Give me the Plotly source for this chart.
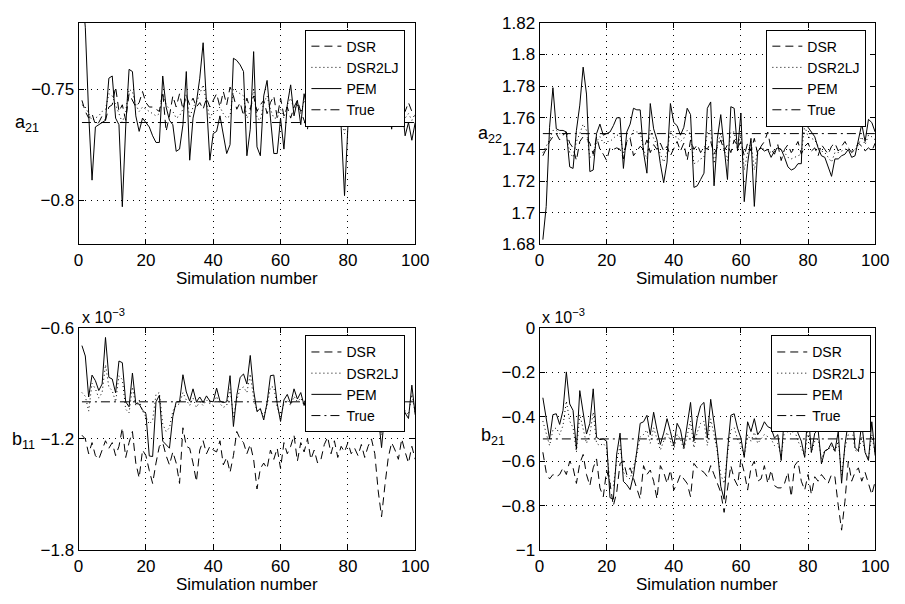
import plotly.graph_objects as go

# page is 905x604; the html body adds an 8px margin all round,
# so the figure itself is 889x588 and sits 8px in from the page corner
PAGE_W, PAGE_H = 905, 604
OFF = 8
W, H = PAGE_W - 2 * OFF, PAGE_H - 2 * OFF

sim = list(range(1, 101))
series_names = ["DSR", "DSR2LJ", "PEM", "True"]
x_ticks = [0, 20, 40, 60, 80, 100]
x_ticktext = ["0", "20", "40", "60", "80", "100"]

# ---------- a21 ----------
a21_dsr = [-0.755,-0.760,-0.763,-0.761,-0.766,-0.765,-0.762,-0.764,-0.758,-0.757,
-0.749,-0.760,-0.757,-0.764,-0.752,-0.755,-0.758,-0.756,-0.751,-0.756,
-0.758,-0.758,-0.759,-0.760,-0.751,-0.769,-0.762,-0.753,-0.758,-0.752,
-0.759,-0.753,-0.757,-0.754,-0.758,-0.756,-0.759,-0.754,-0.758,-0.755,
-0.752,-0.758,-0.751,-0.757,-0.749,-0.753,-0.759,-0.756,-0.762,-0.754,
-0.759,-0.753,-0.760,-0.757,-0.755,-0.761,-0.756,-0.753,-0.763,-0.754,
-0.762,-0.758,-0.763,-0.758,-0.755,-0.760,-0.764,-0.768,-0.756,-0.758,
-0.753,-0.761,-0.758,-0.760,-0.763,-0.756,-0.752,-0.762,-0.758,-0.757,
-0.756,-0.762,-0.759,-0.753,-0.762,-0.757,-0.760,-0.753,-0.760,-0.759,
-0.752,-0.760,-0.757,-0.756,-0.753,-0.758,-0.760,-0.756,-0.760,-0.762]
a21_dsr2lj = [-0.757,-0.758,-0.761,-0.764,-0.763,-0.762,-0.760,-0.759,-0.752,-0.753,
-0.757,-0.761,-0.765,-0.760,-0.750,-0.751,-0.757,-0.760,-0.758,-0.759,
-0.760,-0.761,-0.762,-0.761,-0.752,-0.757,-0.759,-0.760,-0.763,-0.762,
-0.759,-0.752,-0.763,-0.758,-0.756,-0.752,-0.748,-0.756,-0.763,-0.760,
-0.760,-0.758,-0.761,-0.763,-0.762,-0.750,-0.751,-0.752,-0.753,-0.763,
-0.760,-0.750,-0.763,-0.764,-0.756,-0.753,-0.759,-0.763,-0.763,-0.759,
-0.763,-0.757,-0.754,-0.759,-0.757,-0.761,-0.755,-0.758,-0.753,-0.760,
-0.758,-0.761,-0.755,-0.759,-0.757,-0.760,-0.755,-0.762,-0.770,-0.761,
-0.757,-0.755,-0.758,-0.756,-0.760,-0.754,-0.759,-0.757,-0.760,-0.755,
-0.759,-0.757,-0.762,-0.756,-0.759,-0.757,-0.763,-0.761,-0.764,-0.761]
a21_pem = [-0.705,-0.722,-0.761,-0.791,-0.767,-0.766,-0.765,-0.764,-0.745,-0.744,
-0.763,-0.766,-0.803,-0.767,-0.741,-0.742,-0.762,-0.769,-0.763,-0.765,
-0.767,-0.771,-0.774,-0.774,-0.744,-0.758,-0.764,-0.766,-0.778,-0.777,
-0.766,-0.742,-0.782,-0.763,-0.756,-0.745,-0.729,-0.756,-0.782,-0.770,
-0.769,-0.762,-0.771,-0.779,-0.775,-0.736,-0.737,-0.739,-0.742,-0.780,
-0.768,-0.733,-0.776,-0.780,-0.753,-0.746,-0.763,-0.779,-0.779,-0.763,
-0.777,-0.757,-0.748,-0.762,-0.755,-0.766,-0.752,-0.760,-0.745,-0.763,
-0.758,-0.766,-0.750,-0.761,-0.756,-0.764,-0.752,-0.767,-0.798,-0.767,
-0.757,-0.752,-0.760,-0.755,-0.763,-0.750,-0.761,-0.757,-0.764,-0.752,
-0.762,-0.755,-0.768,-0.754,-0.760,-0.756,-0.771,-0.765,-0.773,-0.765]
a21_true = -0.765
a21_ticks = [-0.8, -0.75]
a21_ticktext = ["\u22120.8", "\u22120.75"]
a21_range = [-0.82, -0.72]

# ---------- a22 ----------
a22_dsr = [1.736,1.740,1.745,1.748,1.750,1.746,1.749,1.751,1.744,1.741,
1.733,1.745,1.748,1.747,1.744,1.737,1.748,1.740,1.737,1.733,
1.741,1.740,1.741,1.740,1.734,1.745,1.747,1.736,1.739,1.742,
1.740,1.746,1.738,1.743,1.740,1.744,1.739,1.742,1.736,1.741,
1.745,1.739,1.744,1.733,1.746,1.740,1.743,1.738,1.742,1.740,
1.745,1.737,1.741,1.746,1.739,1.743,1.738,1.746,1.741,1.745,
1.736,1.744,1.739,1.747,1.737,1.742,1.745,1.751,1.740,1.737,
1.743,1.733,1.740,1.743,1.738,1.741,1.745,1.737,1.742,1.744,
1.739,1.741,1.736,1.743,1.740,1.737,1.742,1.744,1.739,1.742,
1.745,1.741,1.738,1.740,1.744,1.742,1.739,1.741,1.739,1.744]
a22_dsr2lj = [1.738,1.742,1.746,1.752,1.752,1.750,1.750,1.749,1.738,1.735,
1.745,1.750,1.756,1.752,1.735,1.736,1.745,1.748,1.744,1.745,
1.745,1.747,1.749,1.749,1.737,1.745,1.747,1.752,1.751,1.751,
1.740,1.734,1.752,1.747,1.743,1.737,1.732,1.738,1.752,1.748,
1.748,1.745,1.747,1.752,1.750,1.731,1.732,1.734,1.735,1.751,
1.752,1.731,1.743,1.750,1.740,1.733,1.751,1.751,1.740,1.750,
1.727,1.738,1.745,1.727,1.740,1.741,1.740,1.740,1.738,1.740,
1.741,1.740,1.738,1.735,1.734,1.735,1.736,1.737,1.755,1.748,
1.747,1.746,1.742,1.739,1.738,1.735,1.732,1.738,1.738,1.739,
1.740,1.741,1.739,1.740,1.743,1.748,1.743,1.749,1.748,1.746]
a22_pem = [1.683,1.704,1.754,1.779,1.753,1.752,1.752,1.751,1.729,1.728,
1.752,1.768,1.792,1.775,1.726,1.727,1.750,1.756,1.749,1.750,
1.751,1.755,1.760,1.760,1.728,1.751,1.756,1.766,1.765,1.765,
1.738,1.725,1.769,1.753,1.746,1.731,1.719,1.732,1.769,1.757,
1.755,1.749,1.754,1.766,1.762,1.716,1.717,1.721,1.725,1.766,
1.770,1.717,1.747,1.762,1.739,1.721,1.767,1.766,1.739,1.763,
1.707,1.731,1.747,1.704,1.739,1.741,1.739,1.740,1.735,1.739,
1.741,1.740,1.735,1.729,1.727,1.728,1.731,1.731,1.790,1.754,
1.751,1.748,1.741,1.736,1.735,1.729,1.723,1.734,1.734,1.736,
1.737,1.740,1.735,1.736,1.745,1.756,1.745,1.759,1.757,1.751]
a22_true = 1.75
a22_ticks = [1.68, 1.70, 1.72, 1.74, 1.76, 1.78, 1.80, 1.82]
a22_ticktext = ["1.68", "1.7", "1.72", "1.74", "1.76", "1.78", "1.8", "1.82"]
a22_range = [1.68, 1.82]

# ---------- b11 (x 10^-3) ----------
b11_dsr = [-1.18,-1.20,-1.28,-1.22,-1.29,-1.31,-1.26,-1.21,-1.25,-1.22,
-1.29,-1.24,-1.14,-1.30,-1.22,-1.16,-1.33,-1.41,-1.26,-1.29,
-1.37,-1.44,-1.33,-1.24,-1.22,-1.29,-1.34,-1.27,-1.33,-1.44,
-1.14,-1.24,-1.25,-1.33,-1.43,-1.26,-1.21,-1.28,-1.24,-1.26,
-1.27,-1.21,-1.34,-1.30,-1.38,-1.29,-1.16,-1.20,-1.22,-1.28,
-1.23,-1.31,-1.47,-1.36,-1.33,-1.36,-1.26,-1.31,-1.25,-1.36,
-1.22,-1.28,-1.24,-1.18,-1.32,-1.22,-1.27,-1.20,-1.31,-1.26,
-1.33,-1.31,-1.23,-1.19,-1.28,-1.21,-1.30,-1.24,-1.27,-1.22,
-1.28,-1.25,-1.29,-1.23,-1.30,-1.24,-1.20,-1.28,-1.48,-1.62,
-1.45,-1.30,-1.22,-1.26,-1.31,-1.20,-1.27,-1.33,-1.24,-1.31]
b11_dsr2lj = [-0.95,-0.97,-1.05,-0.90,-0.93,-0.98,-0.95,-0.80,-0.92,-0.94,
-1.00,-0.86,-0.88,-1.04,-1.06,-0.92,-1.02,-0.99,-1.05,-1.08,
-1.12,-1.10,-0.96,-0.95,-1.12,-1.16,-1.14,-1.05,-1.02,-1.01,
-0.95,-0.99,-1.02,-0.98,-1.03,-1.00,-1.02,-0.99,-1.01,-1.02,
-0.97,-1.01,-1.03,-1.02,-0.93,-1.08,-0.99,-0.93,-0.92,-0.95,
-0.85,-0.98,-1.05,-1.04,-1.08,-1.02,-0.92,-0.92,-1.03,-1.08,
-1.01,-0.99,-1.02,-0.97,-1.00,-0.98,-1.02,-0.98,-1.01,-1.04,
-1.04,-1.10,-1.03,-0.99,-1.01,-0.98,-1.03,-0.99,-1.02,-1.05,
-1.04,-1.06,-1.05,-1.07,-1.06,-1.06,-1.05,-1.07,-1.06,-1.18,
-1.04,-1.03,-1.06,-0.99,-1.05,-1.01,-1.05,-1.07,-0.96,-1.06]
b11_pem = [-0.697,-0.753,-0.974,-0.856,-0.886,-0.939,-0.904,-0.653,-0.868,-0.877,
-0.951,-0.780,-0.789,-1.000,-1.027,-0.845,-1.009,-1.012,-1.045,-1.063,
-1.292,-1.295,-1.000,-0.965,-1.212,-1.233,-1.250,-1.080,-1.000,-1.000,
-0.854,-0.947,-0.996,-0.930,-1.000,-0.974,-1.004,-0.968,-0.996,-1.000,
-0.926,-0.996,-1.004,-1.000,-0.859,-1.133,-0.965,-0.868,-0.850,-0.904,
-0.750,-0.939,-1.053,-1.036,-1.098,-1.004,-0.859,-0.856,-1.009,-1.106,
-0.990,-0.960,-1.010,-0.930,-0.985,-0.950,-1.020,-0.940,-1.000,-1.045,
-1.045,-1.138,-1.040,-0.960,-1.000,-0.950,-1.020,-0.960,-1.010,-1.060,
-1.050,-1.080,-1.070,-1.090,-1.075,-1.080,-1.060,-1.090,-1.070,-1.247,
-1.050,-1.020,-1.080,-0.970,-1.060,-0.990,-1.060,-1.090,-0.910,-1.070]
b11_true = -1.0
b11_ticks = [-1.8, -1.2, -0.6]
b11_ticktext = ["\u22121.8", "\u22121.2", "\u22120.6"]
b11_range = [-1.8, -0.6]

# ---------- b21 (x 10^-3) ----------
b21_dsr = [-0.56,-0.65,-0.68,-0.66,-0.67,-0.66,-0.63,-0.66,-0.60,-0.63,
-0.70,-0.61,-0.57,-0.66,-0.71,-0.63,-0.59,-0.72,-0.76,-0.64,
-0.70,-0.80,-0.74,-0.61,-0.60,-0.66,-0.63,-0.68,-0.72,-0.77,
-0.62,-0.66,-0.64,-0.69,-0.77,-0.62,-0.65,-0.70,-0.64,-0.73,
-0.70,-0.66,-0.68,-0.70,-0.76,-0.61,-0.63,-0.64,-0.65,-0.67,
-0.62,-0.66,-0.70,-0.74,-0.83,-0.72,-0.62,-0.68,-0.71,-0.59,
-0.65,-0.73,-0.63,-0.60,-0.69,-0.68,-0.62,-0.70,-0.64,-0.71,
-0.72,-0.72,-0.70,-0.65,-0.76,-0.62,-0.60,-0.69,-0.73,-0.66,
-0.75,-0.67,-0.69,-0.66,-0.68,-0.70,-0.66,-0.67,-0.80,-0.91,
-0.78,-0.60,-0.69,-0.65,-0.63,-0.69,-0.65,-0.70,-0.75,-0.69]
b21_dsr2lj = [-0.42,-0.47,-0.53,-0.46,-0.45,-0.48,-0.44,-0.33,-0.42,-0.45,
-0.56,-0.39,-0.46,-0.52,-0.48,-0.38,-0.52,-0.53,-0.52,-0.54,
-0.70,-0.71,-0.60,-0.53,-0.65,-0.67,-0.68,-0.63,-0.57,-0.49,
-0.48,-0.46,-0.52,-0.45,-0.50,-0.55,-0.51,-0.47,-0.51,-0.55,
-0.48,-0.50,-0.55,-0.48,-0.42,-0.54,-0.47,-0.43,-0.42,-0.53,
-0.41,-0.48,-0.56,-0.66,-0.70,-0.57,-0.46,-0.45,-0.50,-0.53,
-0.58,-0.48,-0.51,-0.47,-0.52,-0.50,-0.48,-0.49,-0.50,-0.53,
-0.52,-0.58,-0.46,-0.47,-0.48,-0.46,-0.51,-0.54,-0.58,-0.45,
-0.56,-0.51,-0.50,-0.59,-0.55,-0.55,-0.53,-0.56,-0.51,-0.66,
-0.54,-0.48,-0.44,-0.55,-0.56,-0.49,-0.56,-0.59,-0.48,-0.57]
b21_pem = [-0.315,-0.409,-0.500,-0.391,-0.387,-0.435,-0.372,-0.199,-0.343,-0.372,
-0.546,-0.283,-0.391,-0.478,-0.430,-0.275,-0.493,-0.503,-0.500,-0.510,
-0.764,-0.771,-0.568,-0.474,-0.691,-0.706,-0.728,-0.662,-0.554,-0.430,
-0.423,-0.394,-0.481,-0.380,-0.459,-0.525,-0.474,-0.409,-0.467,-0.532,
-0.430,-0.459,-0.539,-0.438,-0.336,-0.510,-0.409,-0.351,-0.336,-0.496,
-0.322,-0.430,-0.546,-0.713,-0.771,-0.554,-0.394,-0.387,-0.452,-0.496,
-0.583,-0.423,-0.467,-0.409,-0.481,-0.459,-0.423,-0.445,-0.452,-0.496,
-0.481,-0.597,-0.383,-0.401,-0.423,-0.394,-0.474,-0.510,-0.583,-0.370,
-0.561,-0.474,-0.459,-0.612,-0.554,-0.546,-0.517,-0.554,-0.467,-0.699,
-0.525,-0.423,-0.351,-0.539,-0.554,-0.430,-0.561,-0.597,-0.423,-0.575]
b21_true = -0.5
b21_ticks = [-1.0, -0.8, -0.6, -0.4, -0.2, 0.0]
b21_ticktext = ["\u22121", "\u22120.8", "\u22120.6", "\u22120.4", "\u22120.2", "0"]
b21_range = [-1.0, 0.0]

FONT = "Liberation Sans, Arial, Helvetica, sans-serif"

def px(x):
    return (x - OFF) / W

def py(y):
    return 1 - (y - OFF) / H

panels = [
    dict(dsr=a21_dsr, lj=a21_dsr2lj, pem=a21_pem, true=a21_true, ticks=a21_ticks,
         ttext=a21_ticktext, rng=a21_range, box=(75, 419, 14, 243), label="a<sub>21</sub>",
         lab_xy=(22, 118), scale=False, leg=(409, 21)),
    dict(dsr=a22_dsr, lj=a22_dsr2lj, pem=a22_pem, true=a22_true, ticks=a22_ticks,
         ttext=a22_ticktext, rng=a22_range, box=(546, 889, 14, 243), label="a<sub>22</sub>",
         lab_xy=(495, 129), scale=False, leg=(880, 21)),
    dict(dsr=b11_dsr, lj=b11_dsr2lj, pem=b11_pem, true=b11_true, ticks=b11_ticks,
         ttext=b11_ticktext, rng=b11_range, box=(75, 419, 329, 559), label="b<sub>11</sub>",
         lab_xy=(19, 446), scale=True, leg=(409, 337)),
    dict(dsr=b21_dsr, lj=b21_dsr2lj, pem=b21_pem, true=b21_true, ticks=b21_ticks,
         ttext=b21_ticktext, rng=b21_range, box=(546, 889, 329, 559), label="b<sub>21</sub>",
         lab_xy=(498, 441), scale=True, leg=(885, 337)),
]

styles = {
    "DSR": dict(dash="8px,5px", width=1),
    "DSR2LJ": dict(dash="1px,3px", width=1),
    "PEM": dict(dash="solid", width=1),
    "True": dict(dash="9px,4px,2px,4px", width=1),
}

fig = go.Figure()
layout = dict(
    width=W, height=H,
    margin=dict(l=0, r=0, t=0, b=0),
    paper_bgcolor="white", plot_bgcolor="white",
    font=dict(family=FONT, size=17, color="black"),
    showlegend=True,
)
annotations = []

for i, p in enumerate(panels, start=1):
    xa = "x" if i == 1 else f"x{i}"
    ya = "y" if i == 1 else f"y{i}"
    leg = "legend" if i == 1 else f"legend{i}"
    ys = {
        "DSR": p["dsr"],
        "DSR2LJ": p["lj"],
        "PEM": p["pem"],
        "True": [p["true"]] * len(sim),
    }
    for name in series_names:
        fig.add_trace(go.Scatter(
            x=sim, y=ys[name], mode="lines", name=name,
            line=dict(color="black", **styles[name]),
            xaxis=xa, yaxis=ya, legend=leg, cliponaxis=True,
        ))
    x0, x1, y0, y1 = p["box"]
    axcommon = dict(
        showline=True, linecolor="black", linewidth=1, mirror="ticks",
        ticks="inside", ticklen=5, tickcolor="black", zeroline=False,
        showgrid=True, gridcolor="black", gridwidth=1, griddash="1px,5px",
        tickfont=dict(family=FONT, size=17, color="black"),
    )
    layout["xaxis" if i == 1 else f"xaxis{i}"] = dict(
        domain=[px(x0), px(x1)], range=[0, 100], tickmode="array",
        tickvals=x_ticks, ticktext=x_ticktext, anchor=ya, **axcommon,
    )
    layout["yaxis" if i == 1 else f"yaxis{i}"] = dict(
        domain=[py(y1), py(y0)], range=p["rng"], tickmode="array",
        tickvals=p["ticks"], ticktext=p["ttext"], anchor=xa, **axcommon,
    )
    lx, ly = p["leg"]
    layout[leg] = dict(
        x=px(lx), y=py(ly), xanchor="right", yanchor="top",
        bgcolor="white", bordercolor="black", borderwidth=1,
        font=dict(family=FONT, size=14, color="black"),
        tracegroupgap=0, itemwidth=30,
        entrywidth=80, entrywidthmode="pixels",
    )
    annotations.append(dict(
        text="Simulation number", x=px((x0 + x1) / 2), y=py(y1 + 35),
        xref="paper", yref="paper", showarrow=False,
        xanchor="center", yanchor="middle", font=dict(size=17),
    ))
    annotations.append(dict(
        text=p["label"], x=px(p["lab_xy"][0]), y=py(p["lab_xy"][1]),
        xref="paper", yref="paper", showarrow=False,
        xanchor="center", yanchor="middle", font=dict(size=18),
    ))
    if p["scale"]:
        annotations.append(dict(
            text="x 10<sup>\u22123</sup>", x=px(x0 + 1), y=py(y0 - 12),
            xref="paper", yref="paper", showarrow=False,
            xanchor="left", yanchor="middle", font=dict(size=16),
        ))

layout["annotations"] = annotations
fig.update_layout(**layout)
fig.write_html("out.html")
